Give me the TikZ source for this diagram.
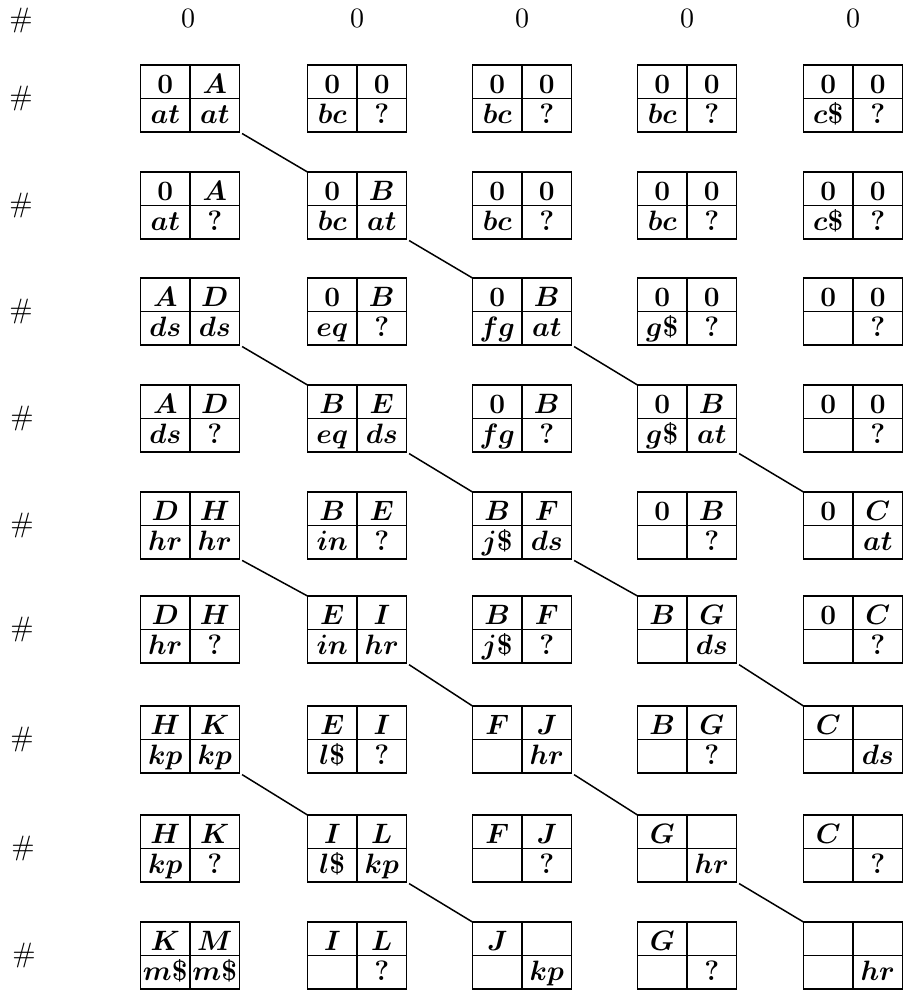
\RequirePackage{fix-cm}
\documentclass[tikz,border=0pt]{standalone}
\usetikzlibrary{calc}
\font\hdrfnt=cmr10 at 28pt
\tikzset{
  qbox/.style={draw, rectangle, minimum width=99pt, minimum height=67pt, inner sep=0pt, outer sep=0pt, line width=1.8pt},
  divline/.style={line width=1.5pt},
  celltxt/.style={anchor=base, inner sep=0pt, font=\fontsize{28}{32}\selectfont\boldmath},
  hdrtxt/.style={inner sep=0pt, font=\hdrfnt},
  link/.style={line width=1.5pt, shorten <=3pt}
}
% name, x centre, y top, tl, tr, bl, br
\newcommand\qbx[7]{%
  \node[qbox] (#1) at (#2,#3+33.5) {};
  \draw[divline] (#1.north) -- (#1.south) (#1.west) -- (#1.east);
  \node[celltxt] (#1-tl) at ($(#1.north west)+(24.75,28)$) {#4};
  \node[celltxt] (#1-tr) at ($(#1.north west)+(74.25,28)$) {#5};
  \node[celltxt] (#1-bl) at ($(#1.north west)+(24.75,58)$) {#6};
  \node[celltxt] (#1-br) at ($(#1.north west)+(74.25,58)$) {#7};
}
\begin{document}
\begin{tikzpicture}[x=1pt,y=-1pt]
\useasboundingbox (0,0) rectangle (908,990);
% header row
\node[hdrtxt] (h0) at (21,21) {\char`\#};
\foreach \c/\x in {1/188,2/357,3/522,4/687,5/853}{
  \node[hdrtxt, anchor=base] (z\c) at (\x,28) {0};
}
% row labels
\foreach \r/\y/\hx in {1/65/21,2/172/21,3/278/21,4/385/22,5/492/22,6/596/22,7/706/22,8/815/23,9/922/24}{
  \node[hdrtxt] (h\r) at (\hx,\y+33.5) {\char`\#};
}
% row 1
\qbx{b11}{190}{65}{$0$}{$A$}{$at$}{$at$}
\qbx{b12}{357}{65}{$0$}{$0$}{$bc$}{$?$}
\qbx{b13}{522}{65}{$0$}{$0$}{$bc$}{$?$}
\qbx{b14}{687}{65}{$0$}{$0$}{$bc$}{$?$}
\qbx{b15}{853}{65}{$0$}{$0$}{$c\$$}{$?$}
% row 2
\qbx{b21}{190}{172}{$0$}{$A$}{$at$}{$?$}
\qbx{b22}{357}{172}{$0$}{$B$}{$bc$}{$at$}
\qbx{b23}{522}{172}{$0$}{$0$}{$bc$}{$?$}
\qbx{b24}{687}{172}{$0$}{$0$}{$bc$}{$?$}
\qbx{b25}{853}{172}{$0$}{$0$}{$c\$$}{$?$}
% row 3
\qbx{b31}{190}{278}{$A$}{$D$}{$ds$}{$ds$}
\qbx{b32}{357}{278}{$0$}{$B$}{$eq$}{$?$}
\qbx{b33}{522}{278}{$0$}{$B$}{$fg$}{$at$}
\qbx{b34}{687}{278}{$0$}{$0$}{$g\$$}{$?$}
\qbx{b35}{853}{278}{$0$}{$0$}{}{$?$}
% row 4
\qbx{b41}{190}{385}{$A$}{$D$}{$ds$}{$?$}
\qbx{b42}{357}{385}{$B$}{$E$}{$eq$}{$ds$}
\qbx{b43}{522}{385}{$0$}{$B$}{$fg$}{$?$}
\qbx{b44}{687}{385}{$0$}{$B$}{$g\$$}{$at$}
\qbx{b45}{853}{385}{$0$}{$0$}{}{$?$}
% row 5
\qbx{b51}{190}{492}{$D$}{$H$}{$hr$}{$hr$}
\qbx{b52}{357}{492}{$B$}{$E$}{$in$}{$?$}
\qbx{b53}{522}{492}{$B$}{$F$}{$j\$$}{$ds$}
\qbx{b54}{687}{492}{$0$}{$B$}{}{$?$}
\qbx{b55}{853}{492}{$0$}{$C$}{}{$at$}
% row 6
\qbx{b61}{190}{596}{$D$}{$H$}{$hr$}{$?$}
\qbx{b62}{357}{596}{$E$}{$I$}{$in$}{$hr$}
\qbx{b63}{522}{596}{$B$}{$F$}{$j\$$}{$?$}
\qbx{b64}{687}{596}{$B$}{$G$}{}{$ds$}
\qbx{b65}{853}{596}{$0$}{$C$}{}{$?$}
% row 7
\qbx{b71}{190}{706}{$H$}{$K$}{$kp$}{$kp$}
\qbx{b72}{357}{706}{$E$}{$I$}{$l\$$}{$?$}
\qbx{b73}{522}{706}{$F$}{$J$}{}{$hr$}
\qbx{b74}{687}{706}{$B$}{$G$}{}{$?$}
\qbx{b75}{853}{706}{$C$}{}{}{$ds$}
% row 8
\qbx{b81}{190}{815}{$H$}{$K$}{$kp$}{$?$}
\qbx{b82}{357}{815}{$I$}{$L$}{$l\$$}{$kp$}
\qbx{b83}{522}{815}{$F$}{$J$}{}{$?$}
\qbx{b84}{687}{815}{$G$}{}{}{$hr$}
\qbx{b85}{853}{815}{$C$}{}{}{$?$}
% row 9
\qbx{b91}{190}{922}{$K$}{$M$}{$m\$$}{$m\$$}
\qbx{b92}{357}{922}{$I$}{$L$}{}{$?$}
\qbx{b93}{522}{922}{$J$}{}{}{$kp$}
\qbx{b94}{687}{922}{$G$}{}{}{$?$}
\qbx{b95}{853}{922}{}{}{}{$hr$}
% connectors
\foreach \a/\b in {b11/b22, b22/b33, b31/b42, b33/b44, b42/b53, b44/b55,
                   b51/b62, b53/b64, b62/b73, b64/b75, b71/b82, b73/b84,
                   b82/b93, b84/b95}{
  \draw[link] (\a.south east) -- (\b.north west);
}
\end{tikzpicture}
\end{document}
